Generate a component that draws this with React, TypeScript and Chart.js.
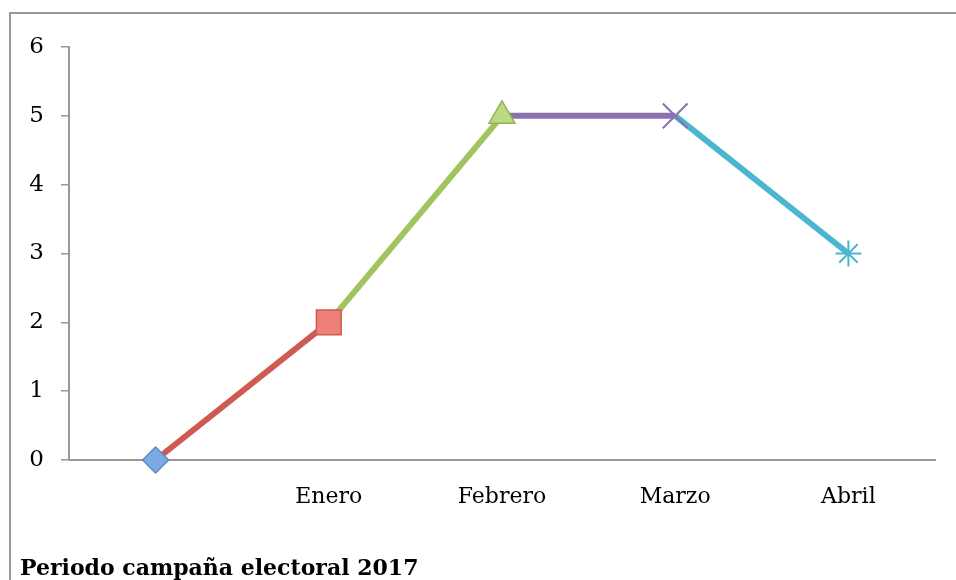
import React, { useEffect, useRef } from 'react';
import { Chart, registerables } from 'chart.js';

Chart.register(...registerables);

const categories = ['', 'Enero', 'Febrero', 'Marzo', 'Abril'];
const values = [0, 2, 5, 5, 3];
const yMin = 0;
const yMax = 6;
const yStep = 1;
const segmentColors = ['#CD5B52', '#A2C45E', '#8D70AE', '#4BB6D0'];
const pointStyles = ['rectRot', 'rect', 'triangle', 'crossRot', 'star'];
const pointFills = ['#7DAAE0', '#EE807A', '#BCD985', '#8D70AE', '#4BB6D0'];
const pointBorders = ['#5A8AC8', '#CD5B52', '#93B552', '#8D70AE', '#4BB6D0'];
const pointSizes = [13, 17.5, 15, 17.5, 13];
const pointBorderWidths = [1.5, 1.5, 1.5, 2, 2];
const titleText = 'Periodo campaña electoral 2017';

const frame = {
  id: 'frame',
  afterDraw(chart: any) {
    const ctx = chart.ctx;
    ctx.save();
    ctx.strokeStyle = '#999999';
    ctx.lineWidth = 2;
    ctx.beginPath();
    ctx.moveTo(10, 580);
    ctx.lineTo(10, 13);
    ctx.lineTo(956, 13);
    ctx.stroke();
    ctx.restore();
  },
};

export default function App() {
  const ref = useRef<HTMLCanvasElement>(null);
  useEffect(() => {
    if (!ref.current) return;
    const chart = new Chart(ref.current, {
      type: 'line',
      data: {
        labels: categories,
        datasets: [
          {
            data: values,
            clip: false,
            borderWidth: 6,
            borderColor: segmentColors[0],
            segment: {
              borderColor: (ctx: any) => segmentColors[ctx.p0DataIndex],
            },
            tension: 0,
            pointStyle: pointStyles as any,
            pointRadius: pointSizes,
            pointBackgroundColor: pointFills,
            pointBorderColor: pointBorders,
            pointBorderWidth: pointBorderWidths,
          },
        ],
      },
      options: {
        responsive: false,
        animation: false,
        layout: { padding: { left: 20, right: 21, top: 47, bottom: 0 } },
        plugins: {
          legend: { display: false },
          tooltip: { enabled: false },
          title: {
            display: true,
            text: titleText,
            position: 'bottom',
            align: 'start',
            color: '#000000',
            font: { family: 'DejaVu Serif', size: 22, weight: 'bold', lineHeight: 1 },
            padding: { top: 0, bottom: 0 },
          },
        },
        scales: {
          x: {
            type: 'category',
            offset: true,
            grid: { display: false, drawTicks: false },
            border: { display: true, color: '#999999', width: 2 },
            ticks: {
              color: '#000000',
              font: { family: 'DejaVu Serif', size: 22 },
              padding: 24,
              maxRotation: 0,
              autoSkip: false,
            },
            afterFit: (s: any) => {
              s.height = 98;
            },
          },
          y: {
            min: yMin,
            max: yMax,
            ticks: {
              stepSize: yStep,
              color: '#000000',
              font: { family: 'DejaVu Serif', size: 23 },
              padding: 17,
            },
            grid: {
              drawOnChartArea: false,
              drawTicks: true,
              tickLength: 8,
              color: '#999999',
              lineWidth: 1.5,
            },
            border: { display: true, color: '#999999', width: 2 },
            afterFit: (s: any) => {
              s.width = 49;
            },
          },
        },
      },
      plugins: [frame],
    });
    return () => chart.destroy();
  }, []);
  return (
    <div style={{ position: 'absolute', left: 0, top: 0, width: 956, height: 580, background: '#ffffff' }}>
      <canvas ref={ref} width={956} height={580} />
    </div>
  );
}
